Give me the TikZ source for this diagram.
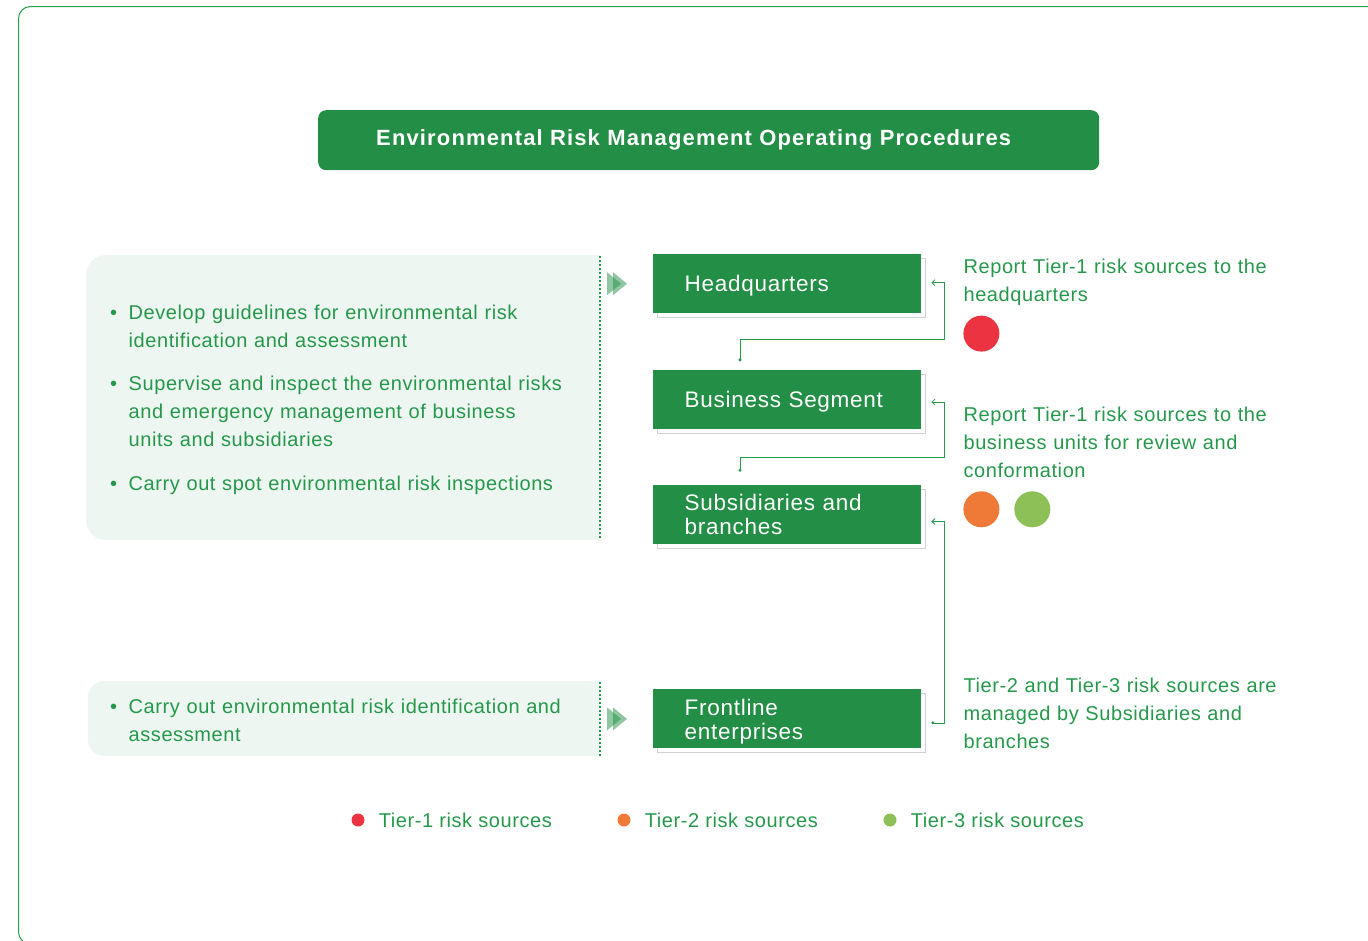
\documentclass[tikz,border=0pt]{standalone}
\usepackage{fontspec}
\setmainfont{Liberation Sans}[LetterSpace=2.9]
\newfontfamily\stagefont{Liberation Sans}[LetterSpace=3.2]
\newfontfamily\bannerfont{Liberation Sans}[LetterSpace=5.2]
\usetikzlibrary{positioning,arrows.meta,shadows}

\definecolor{boxgreen}{HTML}{238E45}
\definecolor{txtgreen}{HTML}{25984B}
\definecolor{panelbg}{HTML}{EEF6F1}
\definecolor{framegreen}{HTML}{2AA04B}
\definecolor{tierone}{HTML}{EC3341}
\definecolor{tiertwo}{HTML}{EF7A37}
\definecolor{tierthree}{HTML}{8DC057}

\newcommand\itemdot{\makebox[18.5pt][l]{\textbullet}}
\newcommand\itemgap{\hspace*{18.5pt}}

\begin{document}
\begin{tikzpicture}[x=1pt,y=-1pt,
	banner/.style={fill=boxgreen,rounded corners=8pt,text=white,font=\bannerfont\bfseries\fontsize{22}{24}\selectfont,
		minimum width=781pt,minimum height=60pt,text width=665pt,inner xsep=58pt,inner ysep=0pt,align=left},
	stagebox/.style={fill=boxgreen,text=white,font=\stagefont\fontsize{22.5}{24}\selectfont,
		minimum width=268pt,minimum height=59pt,text width=205pt,inner xsep=31.5pt,inner ysep=0pt,align=left,
		general shadow={draw=black!18,line width=1pt,fill=white,shadow xshift=4.5pt,shadow yshift=-4.5pt},
		execute at begin node={\rule{0pt}{21.4pt}},execute at end node={\rule[-5pt]{0pt}{5pt}}},
	notetext/.style={text=txtgreen,font=\fontsize{20}{28}\selectfont,text width=330pt,align=left,inner sep=0pt,
		execute at begin node=\strut,execute at end node=\strut},
	bulletitem/.style={notetext,text width=480pt},
	tierdot/.style={circle,inner sep=0pt,minimum size=36pt},
	keydot/.style={circle,inner sep=0pt,minimum size=13pt},
	keytext/.style={text=txtgreen,font=\fontsize{20}{24}\selectfont,inner sep=0pt},
	flow/.style={draw=txtgreen,line width=0.8pt,{Circle[length=3pt]}-{Straight Barb[length=3pt,width=6pt]}},
	chev/.style={fill=boxgreen,fill opacity=0.5},
	sepline/.style={txtgreen,line width=1.8pt,dash pattern=on 1.8pt off 2.2pt}]
		\useasboundingbox (0,0) rectangle (1368,940);
		\clip (0,0) rectangle (1368,940);
		\draw [framegreen,line width=1pt,rounded corners=12pt] (18.5,6.5) rectangle (1400,944);
		
		% left panels
		\fill [panelbg,rounded corners=20pt] (86,255) rectangle (600,540);
		\fill [panelbg] (560,255) rectangle (600,540);
		\fill [panelbg,rounded corners=16pt] (88,681) rectangle (600,756);
		\fill [panelbg] (560,681) rectangle (600,756);
		\draw [sepline] (600,256) -- (600,540);
		\draw [sepline] (600,682) -- (600,756);
		
		\node [banner,anchor=north west] (head) at (318,110) {Environmental Risk Management Operating Procedures};
		
		\node [bulletitem,anchor=north west]                        (a1) at (110,299.4) {\itemdot Develop guidelines for environmental risk\\\itemgap identification and assessment};
		\node [bulletitem,below=15pt of a1.south west,anchor=north west] (a2) {\itemdot Supervise and inspect the environmental risks\\\itemgap and emergency management of business\\\itemgap units and subsidiaries};
		\node [bulletitem,below=15pt of a2.south west,anchor=north west] (a3) {\itemdot Carry out spot environmental risk inspections};
		\node [bulletitem,anchor=north west]                        (b1) at (110,694) {\itemdot Carry out environmental risk identification and\\\itemgap assessment};
		
		% levels
		\node [stagebox,anchor=north west]   (hq)    at (653,254) {Headquarters};
		\node [stagebox,below=56pt of hq]    (bs)    {Business Segment};
		\node [stagebox,below=56pt of bs]    (sub)   {Subsidiaries and\\branches};
		\node [stagebox,below=145pt of sub]  (front) {Frontline\\enterprises};
		
		\foreach \b in {hq,front} {
			\fill [chev] ([xshift=-46pt,yshift=11.5pt]\b.west) -- ++(0pt,-23pt) -- ++(14pt,11.5pt) -- cycle;
			\fill [chev] ([xshift=-40pt,yshift=11.5pt]\b.west) -- ++(0pt,-23pt) -- ++(14pt,11.5pt) -- cycle;
		}
		
		\node [notetext,right=42pt of hq.north east,anchor=north west]             (n1) {Report Tier-1 risk sources to the\\headquarters};
		\node [notetext,right=42pt of bs.east,anchor=north west,yshift=-3pt]       (n2) {Report Tier-1 risk sources to the\\business units for review and\\conformation};
		\node [notetext,right=42pt of front.north east,anchor=north west,yshift=17pt] (n3) {Tier-2 and Tier-3 risk sources are\\managed by Subsidiaries and\\branches};
		
		\node [tierdot,fill=tierone,below=5pt of n1.south west,anchor=north,xshift=18pt]   (d1) {};
		\node [tierdot,fill=tiertwo,below=4.6pt of n2.south west,anchor=north,xshift=18pt] (d2) {};
		\node [tierdot,fill=tierthree,right=14.5pt of d2]                                  (d3) {};
		
		\draw [flow] ([xshift=87pt,yshift=8pt]bs.north west) -- ++(0pt,22pt) -| ([xshift=23pt,yshift=1pt]hq.east) -- ([xshift=10pt,yshift=1pt]hq.east);
		\draw [flow] ([xshift=87pt,yshift=13pt]sub.north west) -- ++(0pt,14pt) -| ([xshift=23pt,yshift=-3pt]bs.east) -- ([xshift=10pt,yshift=-3pt]bs.east);
		\draw [flow] ([xshift=10pt,yshift=-4pt]front.east) -- ++(13pt,0pt) |- ([xshift=10pt,yshift=-7pt]sub.east);
		
		% legend
		\foreach \x/\c/\n in {358/tierone/1,624/tiertwo/2,890/tierthree/3} {
			\node [keydot,fill=\c]          (k\n) at (\x,820) {};
			\node [keytext,right=14pt of k\n] (t\n) {Tier-\n\ risk sources};
		}
	\end{tikzpicture}
\end{document}
